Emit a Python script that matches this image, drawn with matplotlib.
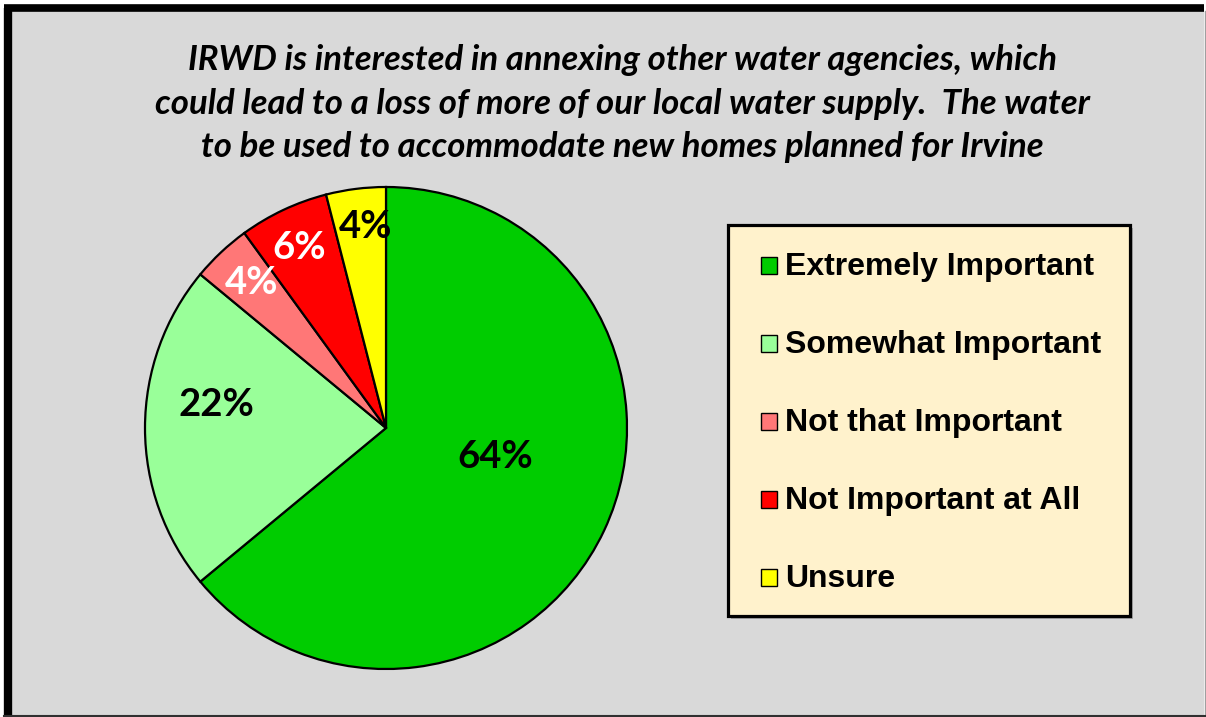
import matplotlib
matplotlib.use("Agg")
import matplotlib.pyplot as plt
from matplotlib.patches import Rectangle
from matplotlib.lines import Line2D
import numpy as np

categories = ["Extremely Important", "Somewhat Important", "Not that Important",
              "Not Important at All", "Unsure"]
values = [64, 22, 4, 6, 4]
colors = ["#00cc00", "#99ff99", "#ff7777", "#ff0000", "#ffff00"]
label_colors = ["black", "black", "white", "white", "black"]
title_lines = ["IRWD is interested in annexing other water agencies, which",
               "could lead to a loss of more of our local water supply.  The water",
               "to be used to accommodate new homes planned for Irvine"]

W, H = 1206, 717
fig = plt.figure(figsize=(W / 100, H / 100), dpi=100)
fig.patch.set_facecolor("white")

def px(x, y):
    return x / W, 1 - y / H

# background panel
bg = Rectangle(px(8, 716), (1204 - 8) / W, (716 - 8) / H, transform=fig.transFigure,
               facecolor="#d9d9d9", edgecolor="none", zorder=-5)
fig.patches.append(bg)
# thick border left/top
fig.add_artist(Line2D([8 / W, 8 / W], [1 - 716 / H, 1 - 7.5 / H], transform=fig.transFigure,
                      color="black", lw=6, solid_capstyle="butt", zorder=-4))
fig.add_artist(Line2D([4 / W, 1204 / W], [1 - 7.5 / H, 1 - 7.5 / H], transform=fig.transFigure,
                      color="black", lw=5.5, solid_capstyle="butt", zorder=-4))
fig.add_artist(Line2D([1204.5 / W, 1204.5 / W], [1 - 716 / H, 1 - 11 / H], transform=fig.transFigure,
                      color="#a0a0a0", lw=1, zorder=-4))
fig.add_artist(Line2D([4 / W, 1], [1 - 716 / H, 1 - 716 / H], transform=fig.transFigure,
                      color="#303030", lw=1.5, zorder=-4))

# title
title_font = dict(family=["Lato", "DejaVu Sans"], weight="bold", style="italic", size=25)
for i, line in enumerate(title_lines):
    x, y = px(622, 60 + i * 43.5)
    fig.text(x, y, line, ha="center", va="center", **title_font)

# pie
cx, cy, r = 386, 428, 241
ax = fig.add_axes([(cx - r) / W, 1 - (cy + r) / H, 2 * r / W, 2 * r / H], zorder=5)
ax.set_facecolor("none")
wedges, _ = ax.pie(values, colors=colors, startangle=90, counterclock=False, radius=1,
                   wedgeprops=dict(edgecolor="black", linewidth=1.6, clip_on=False))
ax.set_xlim(-1.0, 1.0)
ax.set_ylim(-1.0, 1.0)
ax.set_aspect("equal")
ax.axis("off")

# label placement: angle offset (deg) from wedge mid and radial fraction
label_adj = [(10.4, 0.47), (-7.7, 0.71), (-0.5, 0.82), (0.6, 0.83), (-1.5, 0.84)]
for w, v, lc, (da, rf) in zip(wedges, values, label_colors, label_adj):
    mid = np.deg2rad((w.theta1 + w.theta2) / 2 + da)
    ax.text(rf * np.cos(mid), rf * np.sin(mid), f"{v}%", ha="center", va="center",
            color=lc, fontsize=27.5, fontweight="bold", family=["Lato", "DejaVu Sans"])

# legend box
lx0, ly0, lx1, ly1 = 728, 225, 1130, 616
fig.patches.append(Rectangle(px(lx0 + 3, ly1 + 3), (lx1 - lx0) / W, (ly1 - ly0) / H,
                             transform=fig.transFigure, facecolor="#a6a6a6",
                             edgecolor="none", zorder=1))
fig.patches.append(Rectangle(px(lx0, ly1), (lx1 - lx0) / W, (ly1 - ly0) / H,
                             transform=fig.transFigure, facecolor="#fff2cc",
                             edgecolor="black", lw=2.3, zorder=2))
for i, (cat, col) in enumerate(zip(categories, colors)):
    yc = 265 + i * 78
    fig.patches.append(Rectangle(px(760.5, yc + 8.5), 16.5 / W, 17 / H,
                                 transform=fig.transFigure, facecolor=col,
                                 edgecolor="black", lw=1.0, zorder=3))
    x, y = px(785, yc + 2)
    fig.text(x, y, cat, ha="left", va="center", fontsize=23, fontweight="bold",
             family=["Liberation Sans", "DejaVu Sans"], zorder=4)

fig.savefig("out.png", dpi=100)
